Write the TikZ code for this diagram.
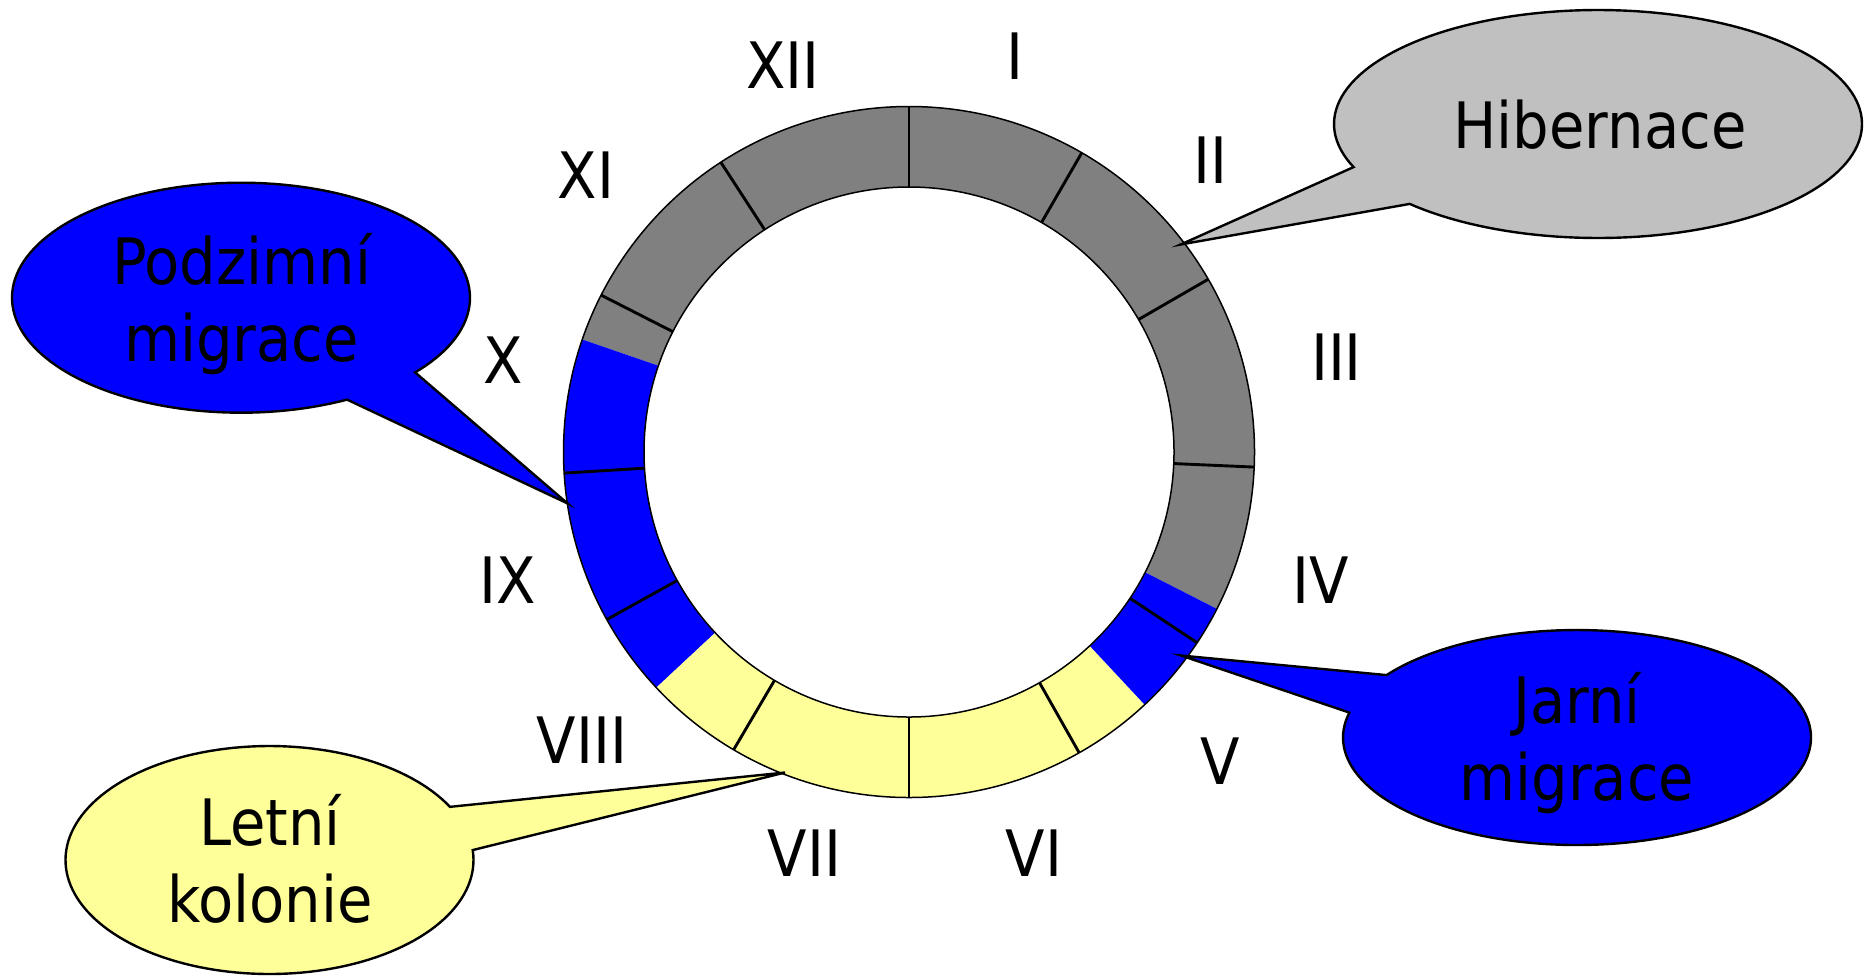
\documentclass[tikz,border=0pt]{standalone}
\usepackage{fontspec}
\setmainfont{DejaVu Sans Condensed}
\definecolor{ringgray}{RGB}{128,128,128}
\definecolor{callgray}{RGB}{192,192,192}
\definecolor{myblue}{RGB}{0,0,255}
\definecolor{myyellow}{RGB}{255,255,153}
\begin{document}
\begin{tikzpicture}[x=0.5pt,y=-0.5pt,
  month/.style={font=\fontsize{32}{38.5}\selectfont, inner sep=0pt},
  calltext/.style={font=\fontsize{32}{38.5}\selectfont, inner sep=0pt, align=center},
  callout/.style={draw=black, line width=1.2pt, line join=miter},
  monthtick/.style={line width=1.45pt},
  ringline/.style={line width=0.75pt},
]
\useasboundingbox (0,0) rectangle (1866,976);
\fill[white] (0,0) rectangle (1866,976);

% ring
\coordinate (ringc) at (909,452);
\begin{scope}[shift={(ringc)}, y=0.5pt]
  \def\Ro{172.75pt}\def\Ri{132.5pt}
  \fill[ringgray] (-27:\Ro) arc[start angle=-27,end angle=161,radius=\Ro] -- (161:\Ri) arc[start angle=161,end angle=-27,radius=\Ri] -- cycle;
  \fill[myblue] (161:\Ro) arc[start angle=161,end angle=223,radius=\Ro] -- (223:\Ri) arc[start angle=223,end angle=161,radius=\Ri] -- cycle;
  \fill[myyellow] (223:\Ro) arc[start angle=223,end angle=313,radius=\Ro] -- (313:\Ri) arc[start angle=313,end angle=223,radius=\Ri] -- cycle;
  \fill[myblue] (313:\Ro) arc[start angle=313,end angle=333,radius=\Ro] -- (333:\Ri) arc[start angle=333,end angle=313,radius=\Ri] -- cycle;
  \draw[ringline] (0,0) circle[radius=\Ro];
  \draw[ringline] (0,0) circle[radius=\Ri];
  \foreach \a in {90,60,30,-2.5,-33.5,-60.5,-90,-120.5,-151,183.5,153,123}
    \draw[monthtick] (\a:\Ri) -- (\a:\Ro);
\end{scope}

% callout tips
\coordinate (tipH) at (1180.6,244.5);
\coordinate (tipP) at (567.5,503.4);
\coordinate (tipJ) at (1181,655.5);
\coordinate (tipL) at (785,772.5);

% callouts
\draw[callout, fill=callgray] plot[domain=157.8:495.5, samples=150] ({1598+264*cos(\x)},{124+114*sin(\x)}) -- (tipH) -- cycle;
\draw[callout, fill=myblue] plot[domain=62.4:400.5, samples=150] ({241+229*cos(\x)},{297.7+115*sin(\x)}) -- (tipP) -- cycle;
\draw[callout, fill=myblue] plot[domain=215.5:553.4, samples=150] ({1577+234*cos(\x)},{737.5+107.5*sin(\x)}) -- (tipJ) -- cycle;
\draw[callout, fill=myyellow] plot[domain=-5:332.2, samples=150] ({269.5+204*cos(\x)},{860+114*sin(\x)}) -- (tipL) -- cycle;

\node[calltext, anchor=base] (hib) at (1600,148) {Hibernace};
\node[calltext] (pod) at (241.7,304) {Podzimní\\migrace};
\node[calltext] (jar) at (1577,743) {Jarní\\migrace};
\node[calltext] (let) at (270,859) {Letní\\kolonie};

% month labels
\node[month] (m1) at (1015,56) {I};
\node[month] (m2) at (1210,160.5) {II};
\node[month] (m3) at (1336.5,357) {III};
\node[month] (m4) at (1321,580) {IV};
\node[month] (m5) at (1220.5,761) {V};
\node[month] (m6) at (1034,853) {VI};
\node[month] (m7) at (804.5,853) {VII};
\node[month] (m8) at (582,740) {VIII};
\node[month] (m9) at (508,580) {IX};
\node[month] (m10) at (503,360.6) {X};
\node[month] (m11) at (586,175.5) {XI};
\node[month] (m12) at (783,65.5) {XII};
\end{tikzpicture}
\end{document}
